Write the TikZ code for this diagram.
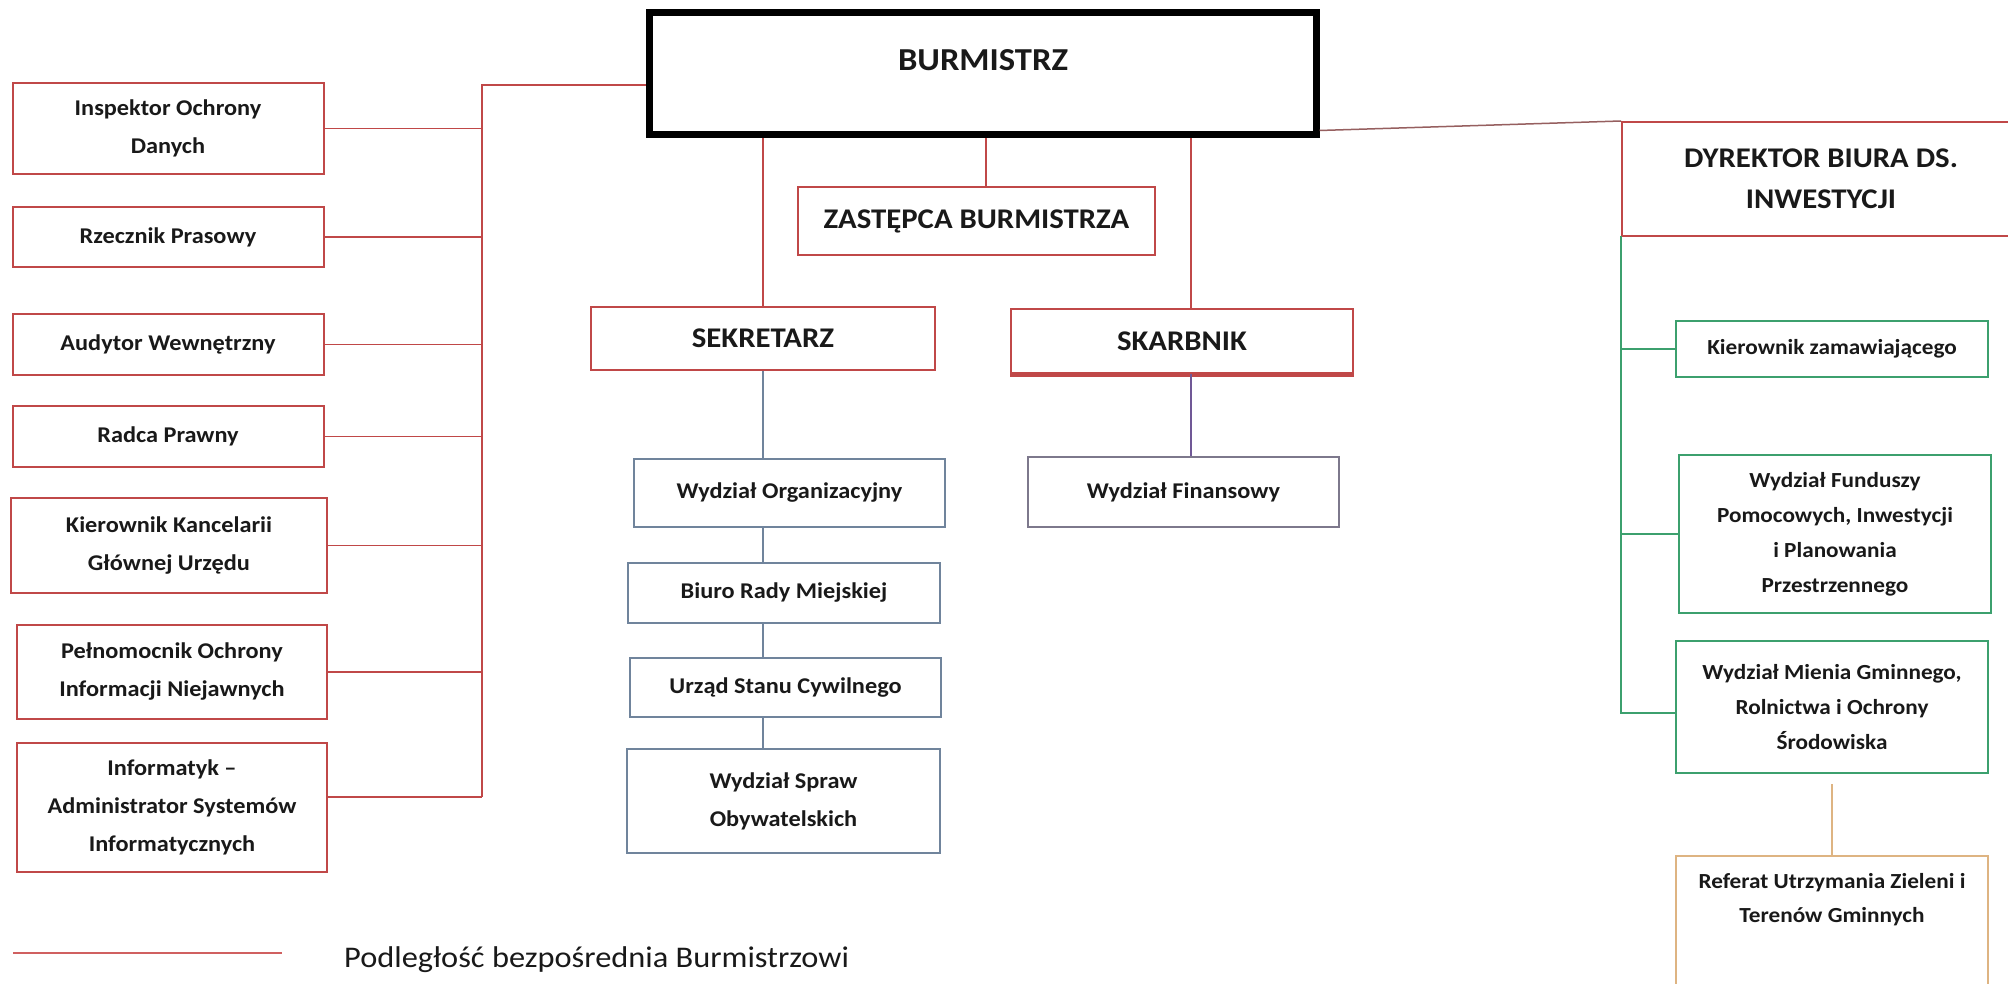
\documentclass[tikz,border=0pt]{standalone}
\usepackage{fontspec}
\newfontfamily\calfont[FakeStretch=1.08]{Carlito}
\definecolor{boxred}{RGB}{192,72,72}
\definecolor{bluegrey}{RGB}{112,132,156}
\definecolor{purpleline}{RGB}{112,88,150}
\definecolor{finbox}{RGB}{125,120,140}
\definecolor{greenb}{RGB}{60,160,110}
\definecolor{tanb}{RGB}{222,180,130}
\definecolor{greyred}{RGB}{150,95,95}
\definecolor{legred}{RGB}{208,96,96}
\definecolor{txt}{RGB}{25,25,25}
\tikzset{
  basebox/.style={inner sep=0pt, align=center, text=txt},
  leftbox/.style={basebox, draw=boxred, line width=2pt, font=\calfont\bfseries\fontsize{22.5}{38}\selectfont},
  headbox/.style={basebox, draw=boxred, line width=2pt, font=\calfont\bfseries\fontsize{28.5}{41}\selectfont},
  greybox/.style={basebox, draw=bluegrey, line width=2pt, font=\calfont\bfseries\fontsize{22.5}{38}\selectfont},
  finstyle/.style={basebox, draw=finbox, line width=2pt, font=\calfont\bfseries\fontsize{22.5}{38}\selectfont},
  greenbox/.style={basebox, draw=greenb, line width=2pt, font=\calfont\bfseries\fontsize{21.5}{35}\selectfont},
  tanbox/.style={basebox, draw=tanb, line width=2pt},
  redline/.style={draw=boxred, line width=1.8pt},
  greyline/.style={draw=bluegrey, line width=1.8pt},
  purpline/.style={draw=purpleline, line width=1.5pt},
  greenline/.style={draw=greenb, line width=1.8pt},
  tanline/.style={draw=tanb, line width=1.8pt},
}
\begin{document}
\begin{tikzpicture}[x=1pt,y=-1pt]
\useasboundingbox (0,0) rectangle (2008,984);
\fill[white] (0,0) rectangle (2008,984);
\clip (0,0) rectangle (2008,984);

% ---- top ----
\node[basebox, draw=black, line width=7pt, minimum width=667pt, minimum height=122pt] (burm) at (982.5,74) {};
\node[basebox, font=\calfont\bfseries\fontsize{32}{36}\selectfont] (burmtxt) at (983,60) {BURMISTRZ};

% ---- left column ----
\node[leftbox, minimum width=311pt, minimum height=91pt] (insp) at (168,128.5) {Inspektor Ochrony\\Danych};
\node[leftbox, minimum width=311pt, minimum height=60pt] (rzecz) at (168,237) {Rzecznik Prasowy};
\node[leftbox, minimum width=311pt, minimum height=61pt] (audyt) at (168,344.5) {Audytor Wewnętrzny};
\node[leftbox, minimum width=311pt, minimum height=61pt] (radca) at (168,436.5) {Radca Prawny};
\node[leftbox, minimum width=316pt, minimum height=95pt] (kier) at (169,545.5) {Kierownik Kancelarii\\Głównej Urzędu};
\node[leftbox, minimum width=310pt, minimum height=94pt] (peln) at (172,672) {Pełnomocnik Ochrony\\Informacji Niejawnych};
\node[leftbox, minimum width=310pt, minimum height=129pt] (infor) at (172,807.5) {Informatyk –\\Administrator Systemów\\Informatycznych};

\coordinate (ltop) at (482,85);
\coordinate (lbot) at (482,797);
\draw[redline] (ltop -| burm.west) -- (ltop) -- (lbot);
\draw[redline] (insp.east) -- (insp.east -| ltop);
\draw[redline] (rzecz.east) -- (rzecz.east -| ltop);
\draw[redline] (audyt.east) -- (audyt.east -| ltop);
\draw[redline] (radca.east) -- (radca.east -| ltop);
\draw[redline] (kier.east) -- (kier.east -| ltop);
\draw[redline] (peln.east) -- (peln.east -| ltop);
\draw[redline] (lbot -| infor.east) -- (lbot);

% ---- centre ----
\node[headbox, minimum width=357pt, minimum height=68pt] (zast) at (976.5,221) {ZASTĘPCA BURMISTRZA};
\node[headbox, minimum width=344pt, minimum height=63pt] (sekr) at (763,338.5) {SEKRETARZ};
\node[headbox, minimum width=342pt, minimum height=64pt] (skarb) at (1182,341) {SKARBNIK};
\draw[draw=boxred, line width=2.5pt] ([yshift=-1.5pt]skarb.south west) -- ([yshift=-1.5pt]skarb.south east);

\coordinate (cz) at (986,0);
\coordinate (ck) at (1191,0);
\draw[redline] (burm.south -| sekr.north) -- (sekr.north);
\draw[redline] (burm.south -| cz) -- (zast.north -| cz);
\draw[redline] (burm.south -| ck) -- (skarb.north -| ck);

\node[greybox, minimum width=311pt, minimum height=68pt] (worg) at (789.5,493) {Wydział Organizacyjny};
\node[greybox, minimum width=312pt, minimum height=60pt] (biuro) at (784,593) {Biuro Rady Miejskiej};
\node[greybox, minimum width=311pt, minimum height=59pt] (urzad) at (785.5,687.5) {Urząd Stanu Cywilnego};
\node[greybox, minimum width=313pt, minimum height=104pt] (wspraw) at (783.5,801) {Wydział Spraw\\Obywatelskich};
\draw[greyline] (sekr.south) -- (sekr.south |- worg.north);
\draw[greyline] (sekr.south |- worg.south) -- (sekr.south |- biuro.north);
\draw[greyline] (sekr.south |- biuro.south) -- (sekr.south |- urzad.north);
\draw[greyline] (sekr.south |- urzad.south) -- (sekr.south |- wspraw.north);

\node[finstyle, minimum width=311pt, minimum height=70pt] (wfin) at (1183.5,492) {Wydział Finansowy};
\draw[purpline] (skarb.south -| ck) -- (wfin.north -| ck);

% ---- right ----
\node[headbox, minimum width=398pt, minimum height=114pt] (dyr) at (1821,179) {DYREKTOR BIURA DS.\\INWESTYCJI};
\draw[draw=greyred, line width=1.5pt] ([yshift=8pt]burm.south east) -- (dyr.north west);

\node[greenbox, minimum width=312pt, minimum height=56pt] (kz) at (1832,349) {Kierownik zamawiającego};
\node[greenbox, minimum width=312pt, minimum height=158pt] (wfund) at (1835,534) {Wydział Funduszy\\Pomocowych, Inwestycji\\i Planowania\\Przestrzennego};
\node[greenbox, minimum width=312pt, minimum height=132pt] (wmien) at (1832,707) {Wydział Mienia Gminnego,\\Rolnictwa i Ochrony\\Środowiska};

\coordinate (rtop) at (1621,236);
\coordinate (rbot) at (1621,713);
\draw[greenline] (rtop) -- (rbot) -- (rbot -| wmien.west);
\draw[greenline] (kz.west -| rtop) -- (kz.west);
\draw[greenline] (wfund.west -| rtop) -- (wfund.west);

\node[tanbox, minimum width=312pt, minimum height=180pt, anchor=north] (ref) at (1832,855) {};
\node[basebox, font=\calfont\bfseries\fontsize{21.5}{34}\selectfont] (reftxt) at (1832,900) {Referat Utrzymania Zieleni i\\Terenów Gminnych};
\draw[tanline] ([yshift=-10pt]wmien.south) -- (ref.north);

% ---- legend ----
\coordinate (leg1) at (13,953);
\coordinate (leg2) at (282,953);
\draw[draw=legred, line width=2pt] (leg1) -- (leg2);
\node[anchor=west, inner sep=0pt, text=txt, font=\calfont\fontsize{30}{34}\selectfont] (legtxt) at (344,960) {Podległość bezpośrednia Burmistrzowi};
\end{tikzpicture}
\end{document}
